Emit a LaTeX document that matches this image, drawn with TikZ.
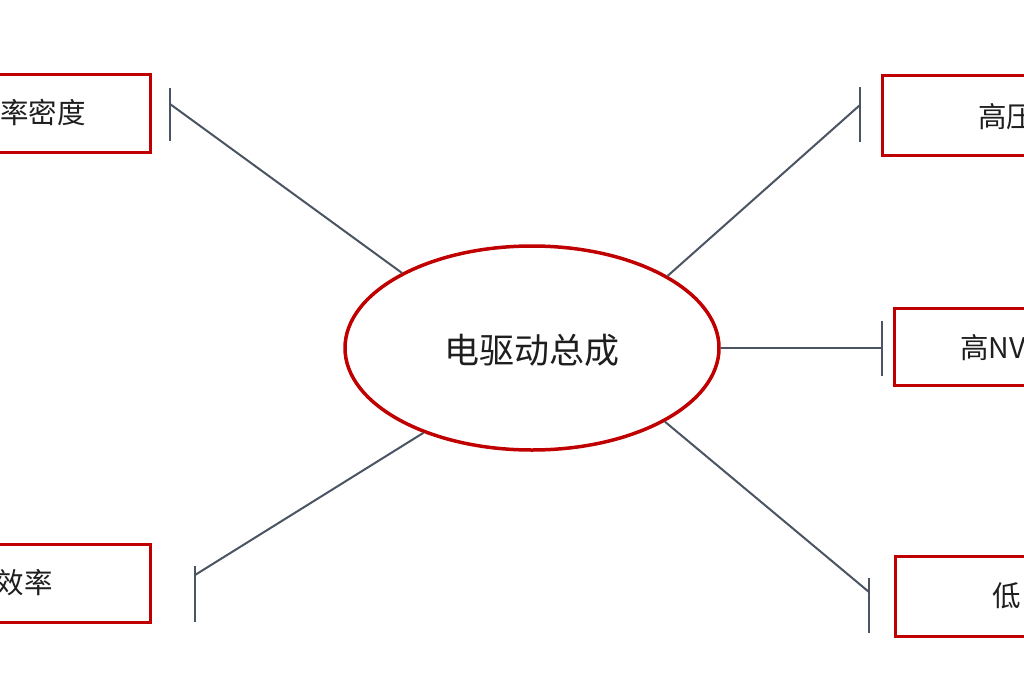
\documentclass[tikz,border=0pt]{standalone}
\usepackage{fontspec}
\setmainfont{Noto Sans CJK SC}
\usetikzlibrary{shapes.geometric}
\definecolor{boxred}{HTML}{C00000}
\definecolor{conncol}{HTML}{4A5462}
\definecolor{txtcol}{HTML}{1E1E1E}
\begin{document}
\begin{tikzpicture}[x=1pt,y=-1pt,
  box/.style={draw=boxred,line width=3pt,fill=white,rectangle,inner sep=0pt},
  hub/.style={draw=boxred,line width=3.5pt,fill=white,ellipse,inner sep=0pt,minimum width=374pt,minimum height=204pt},
  conn/.style={draw=conncol,line width=2pt},
  lbl/.style={text=txtcol,inner sep=0pt,font=\fontsize{28.5}{30}\selectfont},
  hubtxt/.style={text=txtcol,inner sep=0pt,font=\fontsize{35}{37}\selectfont}]
\useasboundingbox (0,0) rectangle (1024,680);
\clip (0,0) rectangle (1024,680);
\fill[white] (0,0) rectangle (1024,680);
% boxes
\node[box,minimum width=220pt,minimum height=78pt] (bTL) at (40,113) {};
\node[box,minimum width=220pt,minimum height=78pt] (bBL) at (40,583) {};
\node[box,minimum width=220pt,minimum height=80pt] (bTR) at (992,115) {};
\node[box,minimum width=220pt,minimum height=77pt] (bRM) at (1004,347) {};
\node[box,minimum width=220pt,minimum height=80pt] (bBR) at (1005,596) {};
% labels
\node[lbl,anchor=east] (tTL) at (86,113) {率密度};
\node[lbl,anchor=east] (tBL) at (53,583) {效率};
\node[lbl,anchor=west] (tTR) at (978,117) {高压};
\node[lbl,anchor=west] (tRM) at (960,348) {高NV};
\node[lbl,anchor=west] (tBR) at (992,596) {低};
% hub
\node[hub] (hub) at (532,348) {};
\node[hubtxt] (htxt) at (532,350) {电驱动总成};
% bar coordinates
\coordinate (cTL) at (170,104);
\coordinate (cTR) at (860,105);
\coordinate (cRM) at (882,348);
\coordinate (cBR) at (869,592);
\coordinate (cBL) at (195,575);
% connectors
\draw[conn] (hub.150) -- (cTL);
\draw[conn] (hub.28) -- (cTR);
\draw[conn] (hub.east) -- (cRM);
\draw[conn] (hub.-29) -- (cBR);
\draw[conn] (hub.218) -- (cBL);
% bars
\draw[conn] (170,88) -- (170,141);
\draw[conn] (860,87) -- (860,142);
\draw[conn] (882,321) -- (882,376);
\draw[conn] (869,578) -- (869,633);
\draw[conn] (195,566) -- (195,622);
\end{tikzpicture}
\end{document}
